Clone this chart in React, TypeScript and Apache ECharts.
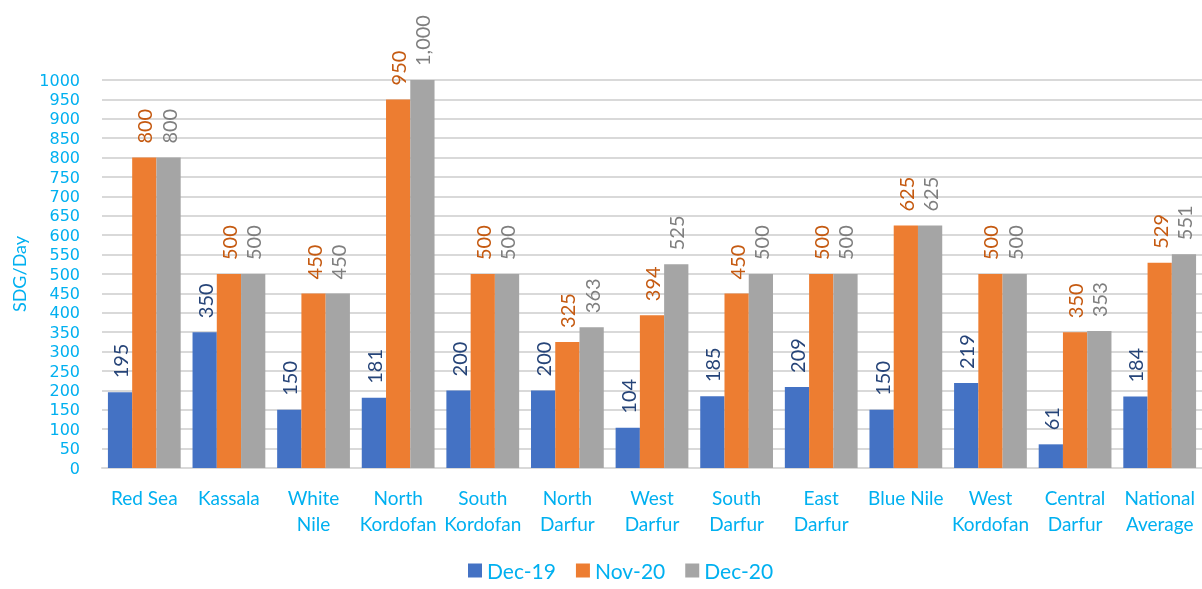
import React, { useEffect, useRef } from "react";
import * as echarts from "echarts";

const categories = [
  "Red Sea", "Kassala", "White\nNile", "North\nKordofan", "South\nKordofan", "North\nDarfur",
  "West\nDarfur", "South\nDarfur", "East\nDarfur", "Blue Nile", "West\nKordofan", "Central\nDarfur", "National\nAverage",
];
const dec19 = [195, 350, 150, 181, 200, 200, 104, 185, 209, 150, 219, 61, 184];
const nov20 = [800, 500, 450, 950, 500, 325, 394, 450, 500, 625, 500, 350, 529];
const dec20 = [800, 500, 450, 1000, 500, 363, 525, 500, 500, 625, 500, 353, 551];
const seriesNames = ["Dec-19", "Nov-20", "Dec-20"];
const barColors = ["#4472C4", "#ED7D31", "#A5A5A5"];
const labelColors = ["#264478", "#C55A11", "#7F7F7F"];

const FONT = "Lato, 'Open Sans', sans-serif";
const CYAN = "#00B0F0";

export default function App() {
  const ref = useRef<HTMLDivElement>(null);
  useEffect(() => {
    if (!ref.current) return;
    const chart = echarts.init(ref.current, null, { renderer: "svg" });
    const data = [dec19, nov20, dec20];
    chart.setOption({
      animation: false,
      textStyle: { fontFamily: FONT },
      grid: { left: 102, right: 0, top: 80, bottom: 121, outerBoundsMode: "none", containLabel: false },
      legend: {
        bottom: 3,
        left: 463,
        itemWidth: 14,
        itemHeight: 14,
        itemGap: 20,
        icon: "rect",
        textStyle: { color: CYAN, fontSize: 21, fontFamily: FONT },
        data: seriesNames,
      },
      xAxis: {
        type: "category",
        data: categories,
        axisTick: { show: false },
        axisLine: { lineStyle: { color: "#D9D9D9", width: 2 } },
        axisLabel: { color: CYAN, fontSize: 19, lineHeight: 26, margin: 16, interval: 0, fontFamily: FONT },
      },
      yAxis: {
        type: "value",
        min: 0,
        max: 1000,
        interval: 50,
        name: "SDG/Day",
        nameLocation: "middle",
        nameGap: 74,
        nameRotate: 90,
        nameTextStyle: { color: CYAN, fontSize: 18, fontFamily: FONT },
        axisLabel: {
          color: CYAN,
          fontSize: 16,
          lineHeight: 16,
          margin: 22,
          fontFamily: "'DejaVu Sans', sans-serif",
          showMinLabel: true,
          showMaxLabel: true,
          hideOverlap: false,
          formatter: (v: number) => String(v),
        },
        axisLine: { show: false },
        axisTick: { show: false },
        splitLine: { lineStyle: { color: "#D9D9D9", width: 2 } },
      },
      series: seriesNames.map((name, i) => ({
        name,
        type: "bar",
        data: data[i],
        barGap: "0%",
        barCategoryGap: "14%",
        itemStyle: { color: barColors[i] },
        label: {
          show: true,
          position: "top",
          rotate: 90,
          align: "left",
          verticalAlign: "middle",
          distance: 14,
          color: labelColors[i],
          fontSize: 20,
          fontFamily: FONT,
          formatter: (p: any) => Number(p.value).toLocaleString("en-US"),
        },
      })),
    });
    return () => chart.dispose();
  }, []);
  return <div ref={ref} style={{ position: "fixed", left: 0, top: 0, width: 1202, height: 589 }} />;
}
